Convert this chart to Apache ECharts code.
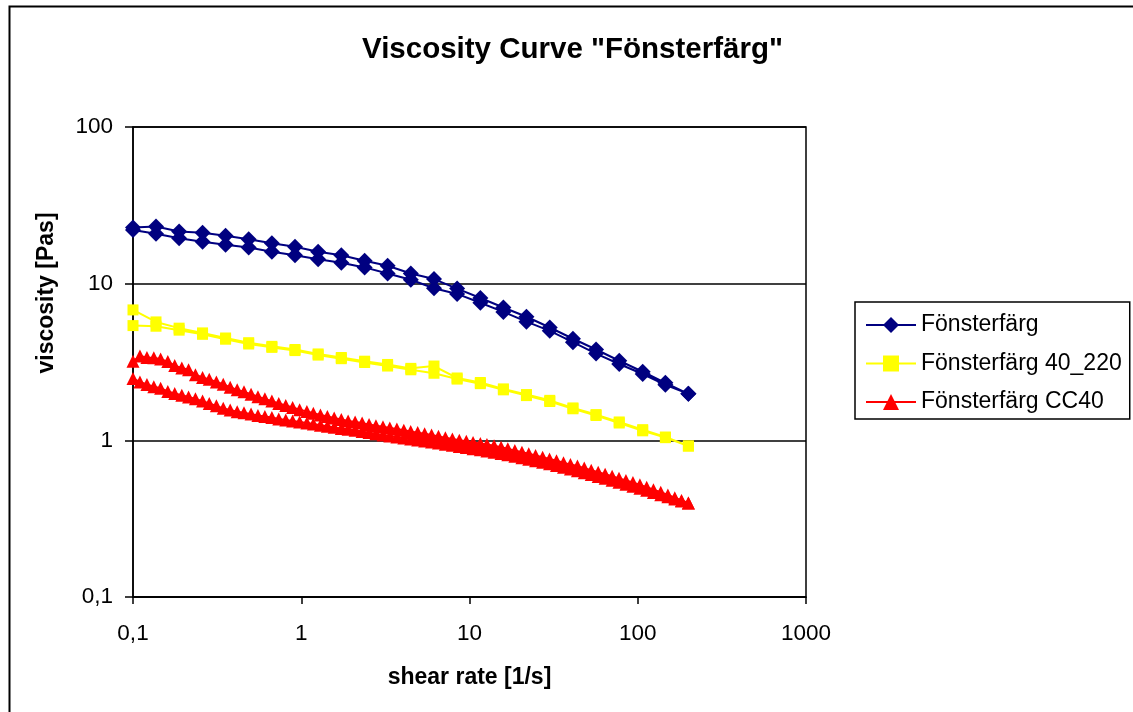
<!DOCTYPE html>
<html>
<head>
<meta charset="utf-8">
<script src="https://cdn.jsdelivr.net/npm/echarts@6/dist/echarts.min.js"></script>
<style>
html,body{margin:0;padding:0;background:#fff;}
#c{width:1133px;height:712px;}
</style>
</head>
<body>
<div id="c"></div>
<script>
// shear rates [1/s] for the first two samples
var shearRates = [0.1, 0.137, 0.188, 0.259, 0.355, 0.487, 0.669, 0.918, 1.26, 1.73, 2.38, 3.26, 4.48, 6.15, 8.44, 11.6, 15.9, 21.8, 30.0, 41.2, 56.5, 77.6, 107, 146, 200];
// Fönsterfärg: up-ramp and down-ramp viscosities [Pas]
var fonsterUp   = [22.8, 23.2, 21.5, 21.1, 20.2, 19.2, 18.1, 17.2, 16.0, 15.2, 14.0, 13.0, 11.6, 10.7, 9.3, 8.1, 7.05, 6.15, 5.25, 4.45, 3.8, 3.22, 2.74, 2.33, 1.98];
var fonsterDown = [22.0, 20.8, 19.5, 18.5, 17.7, 17.0, 16.0, 15.2, 14.3, 13.6, 12.7, 11.6, 10.6, 9.35, 8.6, 7.55, 6.6, 5.72, 5.0, 4.23, 3.58, 3.07, 2.65, 2.26, 1.98];
// Fönsterfärg 40_220
var f40Up   = [6.8, 5.7, 5.2, 4.85, 4.5, 4.2, 3.98, 3.8, 3.56, 3.38, 3.2, 3.05, 2.88, 2.98, 2.5, 2.34, 2.13, 1.96, 1.8, 1.61, 1.46, 1.31, 1.17, 1.05, 0.92];
var f40Down = [5.4, 5.35, 5.05, 4.75, 4.42, 4.12, 3.92, 3.74, 3.5, 3.32, 3.14, 2.98, 2.82, 2.68, 2.46, 2.3, 2.1, 1.93, 1.77, 1.59, 1.44, 1.29, 1.15, 1.04, 0.92];
// shear rates [1/s] for Fönsterfärg CC40
var shearRatesCC = [0.1, 0.110, 0.121, 0.133, 0.146, 0.161, 0.177, 0.195, 0.214, 0.235, 0.259, 0.284, 0.313, 0.344, 0.378, 0.416, 0.457, 0.503, 0.553, 0.608, 0.669, 0.735, 0.809, 0.889, 0.978, 1.08, 1.18, 1.30, 1.43, 1.57, 1.73, 1.90, 2.09, 2.30, 2.53, 2.78, 3.06, 3.36, 3.70, 4.07, 4.47, 4.92, 5.41, 5.95, 6.54, 7.19, 7.91, 8.70, 9.57, 10.5, 11.6, 12.7, 14.0, 15.4, 16.9, 18.6, 20.5, 22.5, 24.7, 27.2, 29.9, 32.9, 36.2, 39.8, 43.8, 48.1, 52.9, 58.2, 64.0, 70.4, 77.4, 85.1, 93.6, 103, 113, 124, 137, 151, 166, 182, 200];
var cc40Up = [3.20, 3.45, 3.38, 3.36, 3.30, 3.18, 3.00, 2.90, 2.82, 2.62, 2.52, 2.45, 2.36, 2.28, 2.18, 2.10, 2.04, 1.97, 1.90, 1.84, 1.78, 1.72, 1.67, 1.62, 1.57, 1.53, 1.49, 1.45, 1.42, 1.39, 1.36, 1.33, 1.31, 1.29, 1.26, 1.24, 1.22, 1.20, 1.18, 1.16, 1.14, 1.12, 1.10, 1.08, 1.06, 1.04, 1.02, 1.00, 0.985, 0.97, 0.955, 0.94, 0.925, 0.905, 0.885, 0.86, 0.84, 0.82, 0.80, 0.78, 0.76, 0.74, 0.72, 0.70, 0.685, 0.665, 0.645, 0.625, 0.607, 0.59, 0.572, 0.555, 0.538, 0.52, 0.502, 0.484, 0.466, 0.448, 0.43, 0.413, 0.398];
var cc40Down = [2.48, 2.36, 2.27, 2.20, 2.15, 2.05, 1.99, 1.94, 1.89, 1.84, 1.78, 1.72, 1.66, 1.60, 1.56, 1.52, 1.50, 1.47, 1.44, 1.42, 1.40, 1.37, 1.35, 1.33, 1.31, 1.29, 1.27, 1.25, 1.23, 1.21, 1.19, 1.175, 1.16, 1.14, 1.12, 1.10, 1.08, 1.065, 1.05, 1.035, 1.02, 1.005, 0.99, 0.975, 0.96, 0.945, 0.93, 0.915, 0.90, 0.885, 0.87, 0.855, 0.84, 0.825, 0.81, 0.79, 0.775, 0.758, 0.742, 0.725, 0.708, 0.69, 0.673, 0.656, 0.64, 0.622, 0.605, 0.588, 0.572, 0.556, 0.54, 0.525, 0.51, 0.495, 0.48, 0.465, 0.45, 0.436, 0.422, 0.41, 0.398];

var seriesNames = ['Fönsterfärg', 'Fönsterfärg 40_220', 'Fönsterfärg CC40'];
var titleText = 'Viscosity Curve "Fönsterfärg"';
var xAxisTitle = 'shear rate [1/s]';
var yAxisTitle = 'viscosity [Pas]';

function loop(xs, up, down) {
  var d = [];
  for (var i = 0; i < xs.length; i++) d.push([xs[i], up[i]]);
  for (var j = xs.length - 1; j >= 0; j--) d.push([xs[j], down[j]]);
  return d;
}
function fmt(v) {
  return String(Number(v.toPrecision(6))).replace('.', ',');
}

var FONT = '"Liberation Sans", Arial, sans-serif';
var chart = echarts.init(document.getElementById('c'), null, {renderer: 'canvas'});
chart.setOption({
  backgroundColor: '#fff',
  animation: false,
  title: {
    text: titleText,
    left: 362, top: 35, padding: 0,
    textStyle: {fontFamily: FONT, fontSize: 29.5, fontWeight: 'bold', color: '#000'}
  },
  graphic: [{
    type: 'rect', left: 7, top: 4, z: -1, silent: true,
    shape: {x: 0, y: 0, width: 1200, height: 800},
    style: {fill: 'none', stroke: '#000', lineWidth: 2}
  }],
  legend: {
    orient: 'vertical',
    left: 855, top: 302,
    padding: [11, 8, 5, 10],
    itemGap: 14.5,
    itemWidth: 50, itemHeight: 20,
    borderColor: '#000', borderWidth: 1.5,
    textStyle: {fontFamily: FONT, fontSize: 23, color: '#000', lineHeight: 24},
    data: seriesNames
  },
  grid: {
    left: 133, top: 127, right: 327, bottom: 115,
    show: true, borderColor: '#000', borderWidth: 1.5, backgroundColor: '#fff'
  },
  xAxis: {
    type: 'log', logBase: 10, min: 0.1, max: 1000,
    name: xAxisTitle, nameLocation: 'middle', nameGap: 69,
    nameTextStyle: {fontFamily: FONT, fontSize: 23, fontWeight: 'bold', color: '#000'},
    axisLine: {show: true, lineStyle: {color: '#000', width: 1.5}},
    axisTick: {show: true, inside: false, length: 7, lineStyle: {color: '#000', width: 1.5}},
    minorTick: {show: false},
    splitLine: {show: false},
    axisLabel: {fontFamily: FONT, fontSize: 22.5, color: '#000', margin: 25, formatter: fmt}
  },
  yAxis: {
    type: 'log', logBase: 10, min: 0.1, max: 100,
    name: yAxisTitle, nameLocation: 'middle', nameGap: 75,
    nameTextStyle: {fontFamily: FONT, fontSize: 23, fontWeight: 'bold', color: '#000', padding: [0, 0, 0, 138]},
    axisLine: {show: true, lineStyle: {color: '#000', width: 1.5}},
    axisTick: {show: true, inside: false, length: 8, lineStyle: {color: '#000', width: 1.5}},
    splitLine: {show: true, lineStyle: {color: '#000', width: 1.5}},
    axisLabel: {fontFamily: FONT, fontSize: 22.5, color: '#000', margin: 20, formatter: fmt}
  },
  series: [
    {
      name: seriesNames[0], type: 'line',
      data: loop(shearRates, fonsterUp, fonsterDown),
      symbol: 'diamond', symbolSize: 16,
      lineStyle: {color: '#000080', width: 2},
      itemStyle: {color: '#000080'}
    },
    {
      name: seriesNames[1], type: 'line',
      data: loop(shearRates, f40Up, f40Down),
      symbol: 'rect', symbolSize: 11,
      lineStyle: {color: '#FFFF00', width: 2},
      itemStyle: {color: '#FFFF00'}
    },
    {
      name: seriesNames[2], type: 'line',
      data: loop(shearRatesCC, cc40Up, cc40Down),
      symbol: 'triangle', symbolSize: [13, 13],
      lineStyle: {color: '#FF0000', width: 2},
      itemStyle: {color: '#FF0000'}
    }
  ]
});
</script>
</body>
</html>
